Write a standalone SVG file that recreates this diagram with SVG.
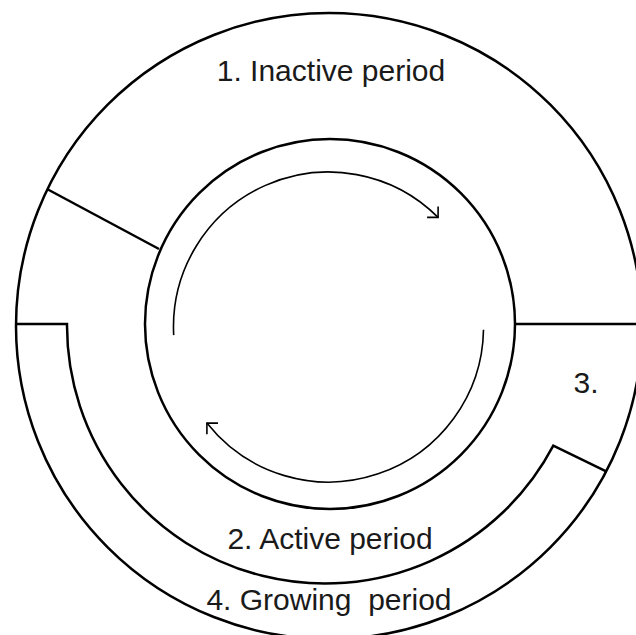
<svg xmlns="http://www.w3.org/2000/svg" width="636" height="635" viewBox="0 0 636 635">
<style>
.ln{fill:none;stroke:#000;stroke-width:2.5}
.ar{fill:none;stroke:#000;stroke-width:1.6}
.t{font-family:"Liberation Sans",Arial,sans-serif;font-size:30px;fill:#1a1a1a;text-anchor:middle}
</style>
<rect width="636" height="635" fill="#fff"/>
<g id="outer-circle">
<circle class="ln" cx="329" cy="326" r="313"/>
</g>
<g id="inner-circle">
<circle class="ln" cx="330" cy="324" r="185"/>
</g>
<g id="inactive-period">
<line class="ln" x1="47" y1="189" x2="159" y2="249"/>
<text class="t" x="331" y="81">1. Inactive period</text>
</g>
<g id="period-3">
<line class="ln" x1="515" y1="324" x2="636" y2="324"/>
<text class="t" x="586" y="393">3.</text>
</g>
<g id="active-period">
<path class="ln" d="M16 324 H67 A258 258 0 0 0 553.3 445.7 L606.7 471.7"/>
<text class="t" x="330" y="549">2. Active period</text>
</g>
<g id="growing-period">
<text class="t" x="329" y="610" xml:space="preserve">4. Growing  period</text>
</g>
<g id="connectors">
<path class="ar" d="M173.7 335.1 A155 155 0 0 1 438.1 217.4"/>
<polyline class="ar" points="427.1,217.4 438.1,217.4 438.1,206.4"/>
<path class="ar" d="M483.5 329.7 A155 155 0 0 1 206.9 423.1"/>
<polyline class="ar" points="218,423.1 206.9,423.1 206.9,434.2"/>
</g>
</svg>
